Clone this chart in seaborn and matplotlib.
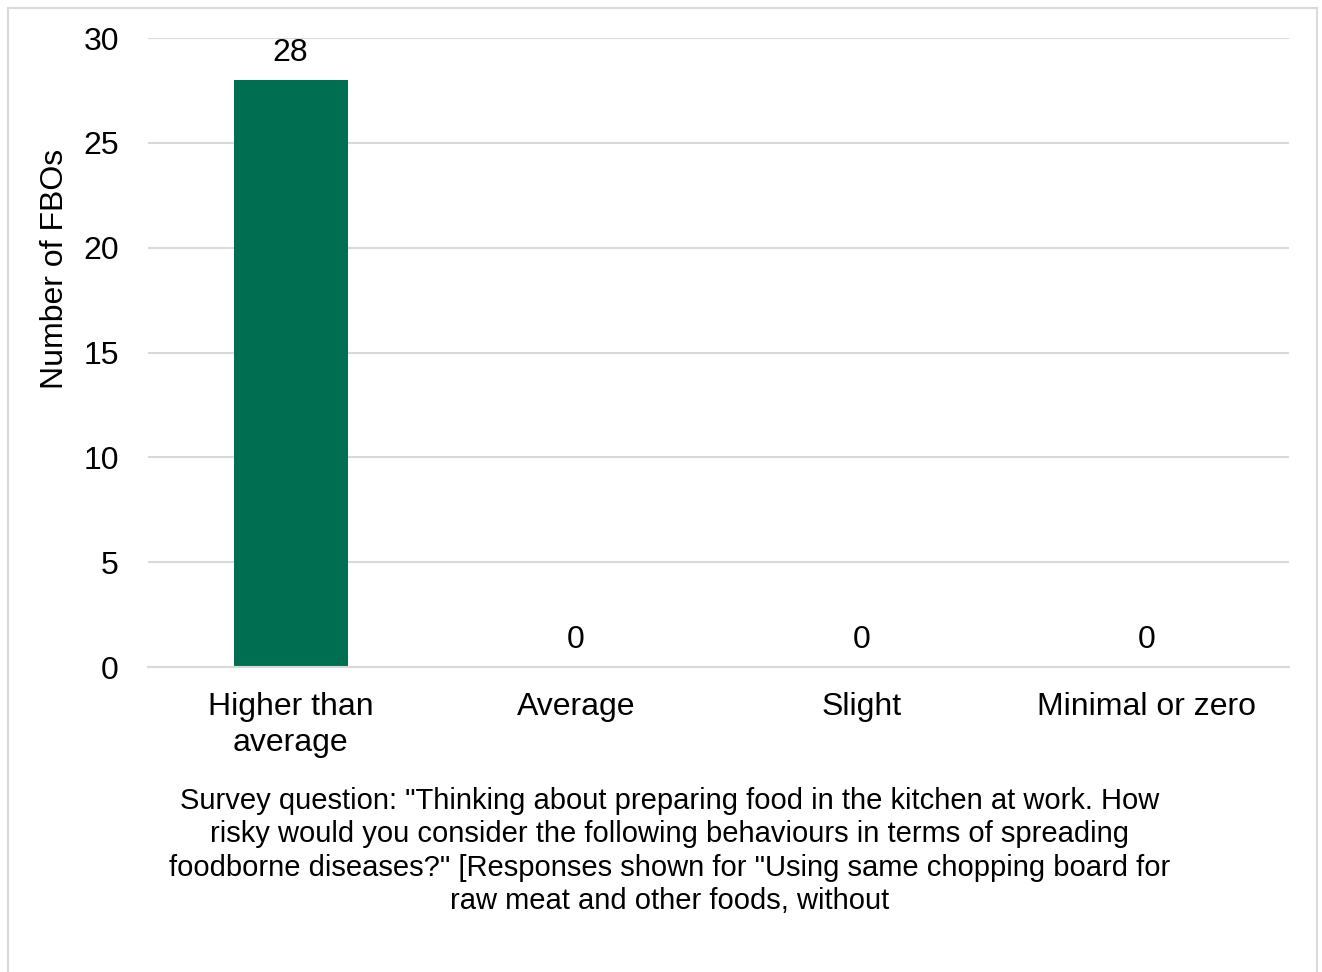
import matplotlib
matplotlib.use("Agg")
import matplotlib.pyplot as plt
import matplotlib.patches as mpatches
import seaborn as sns
import pandas as pd

categories = ["Higher than\naverage", "Average", "Slight", "Minimal or zero"]
values = [28, 0, 0, 0]
y_ticks = [0, 5, 10, 15, 20, 25, 30]
y_label = "Number of FBOs"
caption = ('Survey question: "Thinking about preparing food in the kitchen at work. How\n'
           'risky would you consider the following behaviours in terms of spreading\n'
           'foodborne diseases?" [Responses shown for "Using same chopping board for\n'
           'raw meat and other foods, without')

sns.set_theme(style="white")
plt.rcParams['font.family'] = ['Liberation Sans', 'DejaVu Sans']

W, H = 1322, 972
fig = plt.figure(figsize=(W / 100, H / 100), dpi=100)
ax = fig.add_axes([148 / W, 1 - 667 / H, (1289 - 148) / W, (667 - 38) / H])

df = pd.DataFrame({"cat": categories, "val": values})
sns.barplot(data=df, x="cat", y="val", color="#006F51", width=0.4,
            saturation=1, linewidth=0, ax=ax, zorder=3)

ax.set_ylim(0, 30)
ax.set_xlim(-0.5, len(categories) - 0.5)
ax.set_yticks(y_ticks)
ax.yaxis.grid(True, color="#D9D9D9", linewidth=1.5, zorder=0)
ax.set_axisbelow(True)
for s in ["top", "right", "left"]:
    ax.spines[s].set_visible(False)
ax.spines["bottom"].set_color("#D9D9D9")
ax.spines["bottom"].set_linewidth(1.5)
ax.spines["bottom"].set_zorder(4)

ax.tick_params(axis="y", length=0, labelsize=23, pad=21, labelcolor="black")
ax.tick_params(axis="x", which="major", length=0, labelsize=23, pad=18, labelcolor="black")
ax.set_xticks([i - 0.5 for i in range(len(categories) + 1)], minor=True)
ax.tick_params(axis="x", which="minor", length=10, width=1.5, color="#D9D9D9", direction="out")
for lbl in ax.get_xticklabels():
    lbl.set_linespacing(1.25)
ax.set_xlabel("")
ax.set_ylabel("")

for i, v in enumerate(values):
    ax.annotate(str(v), (i, v), xytext=(0, 8.5), textcoords="offset points",
                ha="center", va="bottom", fontsize=23, color="black")

fig.text(55 / W, 1 - 269 / H, y_label, rotation=90, ha="center", va="center",
         fontsize=23, color="black")

fig.text(670 / W, 1 - 851 / H, caption, ha="center", va="center",
         fontsize=21, color="black", linespacing=1.255)

border = mpatches.Rectangle((7.5 / W, -0.05), (1317 - 7.5) / W, 1 - 7.5 / H + 0.05,
                            transform=fig.transFigure, fill=False,
                            edgecolor="#D9D9D9", linewidth=1.5)
fig.patches.append(border)

fig.savefig("out.png", dpi=100, facecolor="white")
